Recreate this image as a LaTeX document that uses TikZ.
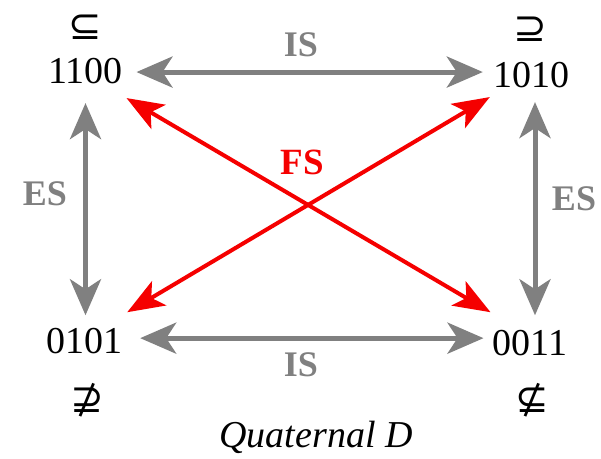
\documentclass[tikz,border=0pt]{standalone}
\usepackage{fontspec}
\setmainfont{Liberation Serif}
\newfontfamily\symfont{DejaVu Sans}
\usetikzlibrary{arrows.meta}
\definecolor{grayarr}{RGB}{128,128,128}
\definecolor{redarr}{RGB}{245,0,0}
\begin{document}
\begin{tikzpicture}[x=1pt,y=-1pt,
  num/.style={font=\fontsize{38}{40}\selectfont, inner sep=0pt, anchor=base},
  sym/.style={font=\symfont\fontsize{40}{42}\selectfont, inner sep=0pt},
  lab/.style={font=\fontsize{36}{38}\selectfont\bfseries, text=grayarr, inner sep=0pt},
  flab/.style={font=\fontsize{37}{38}\selectfont\bfseries, text=redarr, inner sep=0pt},
  ghead/.tip={Stealth[length=36pt,width=31pt,inset=10pt]},
  rhead/.tip={Stealth[length=37pt,width=28pt,inset=9pt]},
  garrow/.style={draw=grayarr, line width=5pt, ghead-ghead},
  rarrow/.style={draw=redarr, line width=4pt, rhead-rhead}
]
\useasboundingbox (0,0) rectangle (601,458);
\fill[white] (0,0) rectangle (601,458);

\node[num] (n1100) at (85.5,83) {1100};
\node[num] (n1010) at (531.5,87) {1010};
\node[num] (n0101) at (84.5,353) {0101};
\node[num] (n0011) at (530,355) {0011};

\node[sym] (s1100) at (85,27) {⊆};
\node[sym] (s1010) at (530,29) {⊇};
\node[sym] (s0101) at (87,400) {⊉};
\node[sym] (s0011) at (532,400) {⊈};

\node[lab] (istop) at (301,45) {IS};
\node[lab] (isbot) at (301,365) {IS};
\node[lab] (esl) at (45,194) {ES};
\node[lab] (esr) at (574,199) {ES};
\node[flab] (fs) at (302,162) {FS};

\node[font=\fontsize{38}{40}\selectfont\itshape, inner sep=0pt, anchor=base] (cap) at (316,447) {Quaternal D};

% IS arrows
\draw[garrow, shorten <=13.5pt, shorten >=10.5pt]
  ([yshift=-1.5pt]n1100.east) -- ([yshift=-1.5pt]n1100.east -| n1010.west);
\draw[garrow, shorten <=17.5pt, shorten >=9pt]
  ([yshift=2.4pt]n0101.east) -- ([yshift=2.4pt]n0101.east -| n0011.west);
% ES arrows
\draw[garrow, shorten <=19.5pt, shorten >=12.3pt]
  (n1100.south) -- (n1100.south |- n0101.north);
\draw[garrow, shorten <=14.5pt, shorten >=14.3pt]
  ([xshift=3.5pt]n1010.south) -- ([xshift=3.5pt]n1010.south |- n0011.north);
% FS arrows
\draw[rarrow] ([xshift=3.5pt,yshift=-14.5pt]n1100.south east) -- ([xshift=-2pt,yshift=17.3pt]n0011.north west);
\draw[rarrow] ([xshift=-3.5pt,yshift=-9.5pt]n1010.south west) -- ([xshift=4.5pt,yshift=15.3pt]n0101.north east);
\end{tikzpicture}
\end{document}
